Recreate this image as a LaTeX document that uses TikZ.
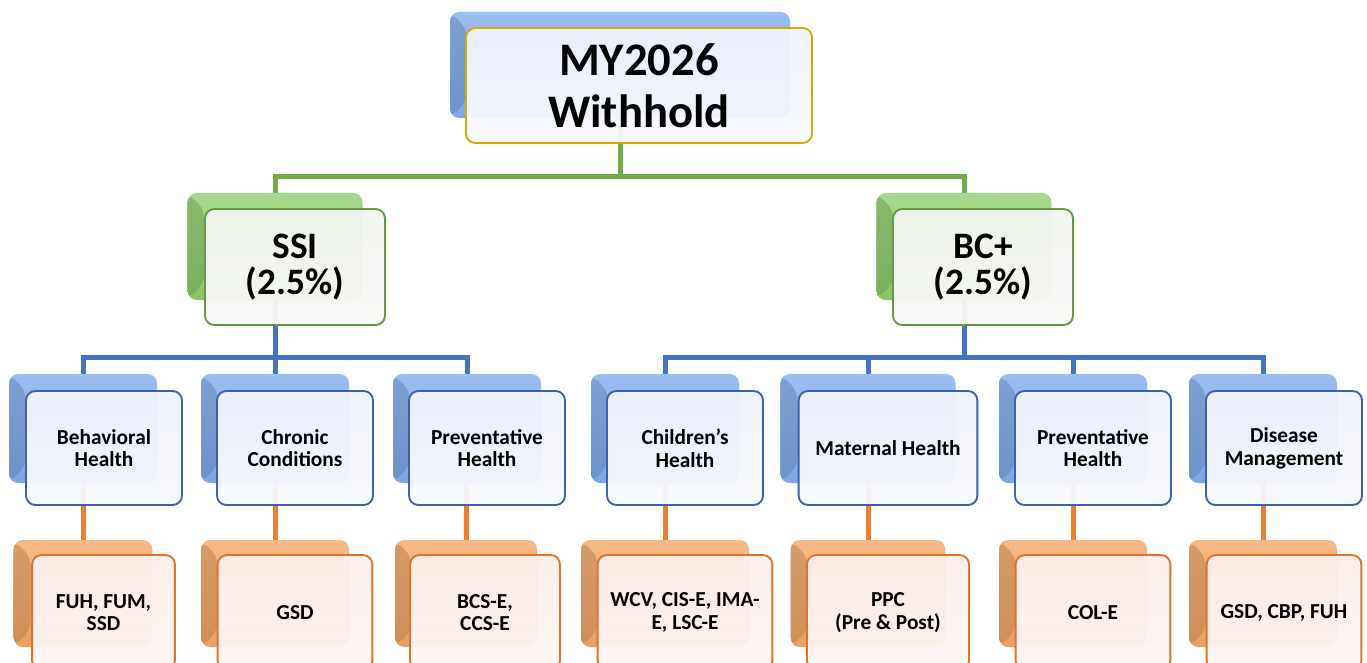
\documentclass[tikz,border=0pt]{standalone}
\usepackage{fontspec}
\setmainfont{Carlito}
\usepackage{xcolor}
\usetikzlibrary{backgrounds}

\definecolor{greenLine}{HTML}{70AD47}
\definecolor{blueLine}{HTML}{4472C4}
\definecolor{orangeLine}{HTML}{ED7D31}
\definecolor{blueBack}{HTML}{82AEEE}
\definecolor{greenBack}{HTML}{92CE70}
\definecolor{orangeBack}{HTML}{F4A868}
\definecolor{goldEdge}{HTML}{D4AA00}
\definecolor{greenEdge}{HTML}{629B3E}
\definecolor{blueEdge}{HTML}{3A62AE}
\definecolor{orangeEdge}{HTML}{E07328}
\definecolor{blueTint}{HTML}{EFF2FB}
\definecolor{greenTint}{HTML}{F2F4EF}
\definecolor{orangeTint}{HTML}{FBEEEA}

\begin{document}
\begin{tikzpicture}[x=0.75pt,y=-0.75pt]
	\tikzstyle{every node}=[align=center,inner sep=0pt]
	\tikzstyle{backBox}=[rounded corners=7pt,
							  top color=#1!80!white,
							  bottom color=#1!95!black,
							  path picture={\fill[#1!75!black,opacity=0.5]
								(path picture bounding box.north west) -- ++(17,17)
								-- ([shift={(17,-17)}]path picture bounding box.south west)
								-- (path picture bounding box.south west) -- cycle;}]
	\tikzstyle{frontBox}=[rounded corners=7pt,
							   line width=1.4pt,
							   draw=#1,
							   fill opacity=0.95,
							   text opacity=1]
	\tikzstyle{tintBlue}=[top color=blueTint,bottom color=blueTint!40!white]
	\tikzstyle{tintGreen}=[top color=greenTint,bottom color=greenTint!40!white]
	\tikzstyle{tintOrange}=[top color=orangeTint,bottom color=orangeTint!50!white]

	\tikzstyle{topBack}=[backBox=blueBack,minimum width=255pt,minimum height=79.5pt]
	\tikzstyle{topFront}=[frontBox=goldEdge,tintBlue,minimum width=259.5pt,minimum height=86.25pt,
							   font=\bfseries\fontsize{35}{39}\selectfont]
	\tikzstyle{subBack}=[backBox=greenBack,minimum width=131.25pt,minimum height=80.25pt]
	\tikzstyle{subFront}=[frontBox=greenEdge,tintGreen,minimum width=135pt,minimum height=87pt,
							   font=\bfseries\fontsize{28}{27}\selectfont]
	\tikzstyle{catBack}=[backBox=blueBack,minimum width=111pt,minimum height=81.75pt]
	\tikzstyle{catFront}=[frontBox=blueEdge,tintBlue,minimum width=117pt,minimum height=85.5pt,
							   font=\bfseries\fontsize{16}{17}\selectfont]
	\tikzstyle{measBack}=[backBox=orangeBack,minimum width=111pt,minimum height=80.25pt]
	\tikzstyle{measFront}=[frontBox=orangeEdge,tintOrange,minimum width=116pt,minimum height=86.25pt,
								font=\bfseries\fontsize{16}{17}\selectfont]

	\tikzstyle{greenLink}=[greenLine,line width=3.75pt]
	\tikzstyle{blueLink}=[blueLine,line width=3.75pt]
	\tikzstyle{orangeLink}=[orangeLine,line width=3.75pt]

\useasboundingbox (0,0) rectangle (1367,663);

% Withhold
\node [topBack] (topS) at (620,65) {};
\node [topFront] (top) at (639,85.5) {MY2026\\Withhold};

% SSI / BC+
\node [subBack] (ssiS) at (275,246.5) {};
\node [subFront] (ssi) at (295,267) {SSI\\(2.5\%)};
\node [subBack] (bcS) at (964,246.5) {};
\node [subFront] (bc) at (983,267) {BC+\\(2.5\%)};

% categories
\node [catBack] (behavS) at (83,428.5) {};
\node [catFront] (behav) at (104,448) {Behavioral\\Health};
\node [catBack] (chronS) at (275,428.5) {};
\node [catFront] (chron) at (295,448) {Chronic\\Conditions};
\node [catBack] (prevaS) at (467,428.5) {};
\node [catFront] (preva) at (487,448) {Preventative\\Health};
\node [catBack] (childS) at (665,428.5) {};
\node [catFront] (child) at (685,448) {Children’s\\Health};
\node [catBack,minimum width=131.25pt] (materS) at (868,428.5) {};
\node [catFront,minimum width=134pt] (mater) at (888,448) {Maternal Health};
\node [catBack] (prevbS) at (1073,428.5) {};
\node [catFront] (prevb) at (1093,448) {Preventative\\Health};
\node [catBack] (diseaseS) at (1263,428.5) {};
\node [catFront] (disease) at (1284,448) {Disease\\Management};

% measures
\node [measBack,minimum width=104pt] (fuhS) at (83,593.5) {};
\node [measFront,minimum width=107pt] (fuh) at (103.5,612.5) {FUH, FUM,\\SSD};
\node [measBack] (gsdS) at (275,593.5) {};
\node [measFront] (gsd) at (295,612.5) {GSD};
\node [measBack,minimum width=106.5pt] (bcsS) at (466,593.5) {};
\node [measFront,minimum width=112.5pt] (bcs) at (485,612.5) {BCS-E,\\CCS-E};
\node [measBack,minimum width=126pt] (wcvS) at (665,593.5) {};
\node [measFront,minimum width=131pt] (wcv) at (685,612.5) {WCV, CIS-E, IMA-\\E, LSC-E};
\node [measBack,minimum width=116pt] (ppcS) at (868,593.5) {};
\node [measFront,minimum width=121.5pt] (ppc) at (888,612.5) {PPC\\(Pre \& Post)};
\node [measBack] (colS) at (1073,593.5) {};
\node [measFront] (col) at (1093,612.5) {COL-E};
\node [measBack] (gsdbS) at (1263,593.5) {};
\node [measFront] (gsdb) at (1284,612.5) {GSD, CBP, FUH};

\coordinate (busTop) at (0,177);
\coordinate (busMid) at (0,357);

\begin{scope}[on background layer]
	\draw[greenLink] (topS.center) -- (topS.center |- busTop) -| (ssiS.center);
	\draw[greenLink] (topS.center |- busTop) -| (bcS.center);
	\foreach \c in {behavS,chronS,prevaS}
		\draw[blueLink] (ssiS.center) -- (ssiS.center |- busMid) -| (\c.center);
	\foreach \c in {childS,materS,prevbS,diseaseS}
		\draw[blueLink] (bcS.center) -- (bcS.center |- busMid) -| (\c.center);
	\foreach \a/\b in {behavS/fuhS,chronS/gsdS,prevaS/bcsS,childS/wcvS,materS/ppcS,prevbS/colS,diseaseS/gsdbS}
		\draw[orangeLink] (\a.center) -- (\b.center);
\end{scope}

\end{tikzpicture}
\end{document}
